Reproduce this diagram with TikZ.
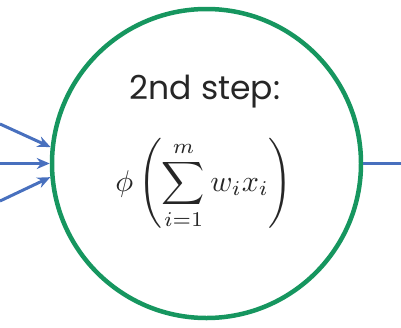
\documentclass[tikz,border=0pt]{standalone}
\usepackage{fontspec}
\setmainfont{Poppins}
\usetikzlibrary{arrows.meta}
\definecolor{ringgreen}{RGB}{22,150,95}
\definecolor{wireblue}{RGB}{72,112,190}
\begin{document}
\begin{tikzpicture}[x=1pt, y=-1pt, line join=round,
		wire/.style={wireblue, line width=3pt},
		inwire/.style={wire, -{Stealth[length=13pt, width=11pt]}}]
	\useasboundingbox (0,0) rectangle (401,327);
	\node[circle, draw=ringgreen, line width=4.5pt, minimum size=309pt, inner sep=0pt] (neuron) at (206.5,163.5) {};
	\node[font=\fontsize{33}{38}\selectfont, text=black!85] (steplabel) at (205,92) {2nd step:};
	\node[scale=3, text=black!85] (formula) at (204,184) {$\displaystyle \phi\left(\sum_{i=1}^{m} w_i x_i\right)$};
	% inputs and output
	\coordinate (inA) at (0,124);
	\coordinate (inB) at (0,163.5);
	\coordinate (inC) at (0,201);
	\coordinate (out) at (401,163.5);
	\draw[inwire] (inA) -- (neuron.174.5);
	\draw[inwire] (inB) -- (neuron.180);
	\draw[inwire] (inC) -- (neuron.185.5);
	\draw[wire] (neuron.0) -- (out);
\end{tikzpicture}
\end{document}
